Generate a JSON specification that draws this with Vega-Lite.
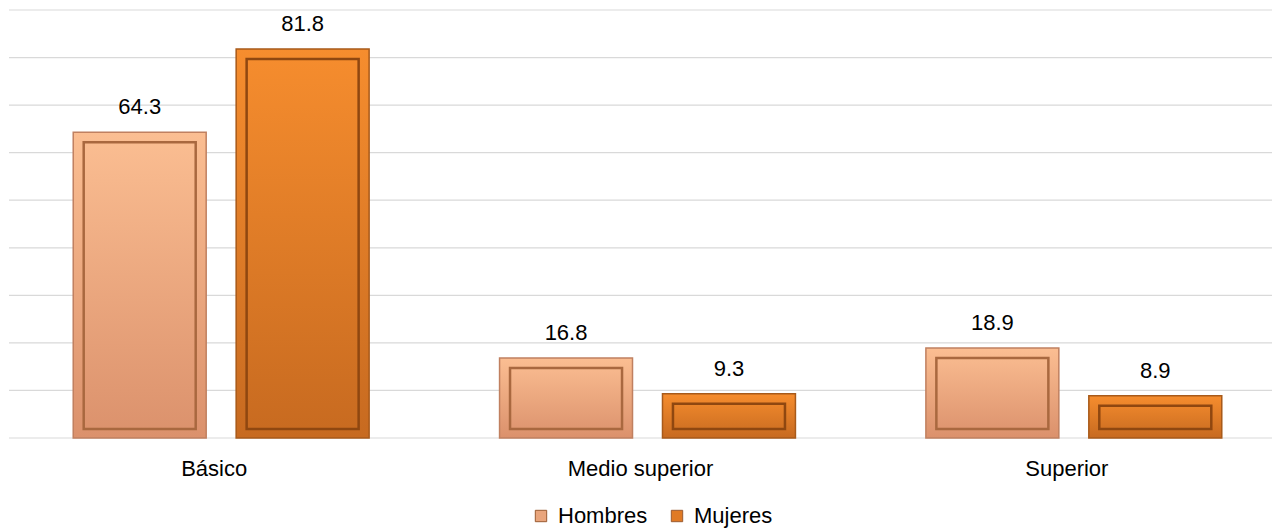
{
  "$schema": "https://vega.github.io/schema/vega-lite/v6.json",
  "width": 1263,
  "height": 428,
  "autosize": "none",
  "padding": {"left": 9, "top": 10, "right": 12, "bottom": 91},
  "config": {"view": {"stroke": null}, "font": "Liberation Sans"},
  "datasets": {
    "grid": [{"g": 0}, {"g": 10}, {"g": 20}, {"g": 30}, {"g": 40}, {"g": 50}, {"g": 60}, {"g": 70}, {"g": 80}, {"g": 90}],
    "main": [
      {"nivel": "Básico", "sexo": "Hombres", "valor": 64.3},
      {"nivel": "Básico", "sexo": "Mujeres", "valor": 81.8},
      {"nivel": "Medio superior", "sexo": "Hombres", "valor": 16.8},
      {"nivel": "Medio superior", "sexo": "Mujeres", "valor": 9.3},
      {"nivel": "Superior", "sexo": "Hombres", "valor": 18.9},
      {"nivel": "Superior", "sexo": "Mujeres", "valor": 8.9}
    ]
  },
  "layer": [
    {
      "data": {"name": "grid"},
      "mark": {"type": "rule", "color": "#d9d9d9", "strokeWidth": 1.2},
      "encoding": {"y": {"field": "g", "type": "quantitative", "scale": {"domain": [0, 90], "nice": false}, "axis": null}}
    },
    {
      "data": {"name": "main"},
      "encoding": {
        "x": {"field": "nivel", "type": "nominal", "sort": ["Básico", "Medio superior", "Superior"],
          "scale": {"range": [-1, 1278], "paddingInner": 0.306, "paddingOuter": 0.153},
          "axis": {"title": null, "labelAngle": 0, "labelFontSize": 22, "labelColor": "#000000", "ticks": false, "labelPadding": 20, "labelOffset": -7, "domain": false, "grid": false}},
        "xOffset": {"field": "sexo", "type": "nominal", "sort": ["Hombres", "Mujeres"], "scale": {"paddingInner": 0.184, "paddingOuter": 0}},
        "y": {"field": "valor", "type": "quantitative", "scale": {"domain": [0, 90], "nice": false}, "axis": null}
      },
      "layer": [
        {
          "mark": {"type": "bar"},
          "encoding": {
            "color": {"field": "sexo", "type": "nominal", "sort": ["Hombres", "Mujeres"],
              "scale": {"domain": ["Hombres", "Mujeres"], "range": ["#e9a57c", "#e07a25"]},
              "legend": {"title": null, "orient": "none", "legendX": 521, "legendY": 495, "direction": "horizontal", "symbolType": "square", "symbolSize": 130, "symbolStrokeWidth": 1, "symbolStrokeColor": "#9a5a30", "labelFontSize": 22, "labelColor": "#000000", "columnPadding": 18, "labelOffset": 6}}
          }
        },
        {
          "transform": [{"filter": "datum.sexo === 'Hombres'"}],
          "mark": {"type": "bar", "strokeWidth": 1.5, "stroke": "#c08060",
            "fill": {"gradient": "linear", "x1": 0, "y1": 0, "x2": 0, "y2": 1, "stops": [{"offset": 0, "color": "#fbbe92"}, {"offset": 1, "color": "#db916c"}]}}
        },
        {
          "transform": [{"filter": "datum.sexo === 'Mujeres'"}],
          "mark": {"type": "bar", "strokeWidth": 1.5, "stroke": "#a85a1a",
            "fill": {"gradient": "linear", "x1": 0, "y1": 0, "x2": 0, "y2": 1, "stops": [{"offset": 0, "color": "#f68d2e"}, {"offset": 1, "color": "#c76a20"}]}}
        },
        {
          "transform": [{"filter": "datum.sexo === 'Hombres'"}],
          "mark": {"type": "bar", "width": 112, "yOffset": 10, "y2Offset": -9, "fill": null, "fillOpacity": 0, "strokeWidth": 2.5, "stroke": "#a9683f"},
          "encoding": {"y2": {"datum": 0}}
        },
        {
          "transform": [{"filter": "datum.sexo === 'Mujeres'"}],
          "mark": {"type": "bar", "width": 112, "yOffset": 10, "y2Offset": -9, "fill": null, "fillOpacity": 0, "strokeWidth": 2.5, "stroke": "#8f4710"},
          "encoding": {"y2": {"datum": 0}}
        },
        {
          "mark": {"type": "text", "baseline": "alphabetic", "dy": -18, "fontSize": 22, "color": "#000000"},
          "encoding": {"text": {"field": "valor", "type": "quantitative", "format": ".1f"}}
        }
      ]
    }
  ]
}
